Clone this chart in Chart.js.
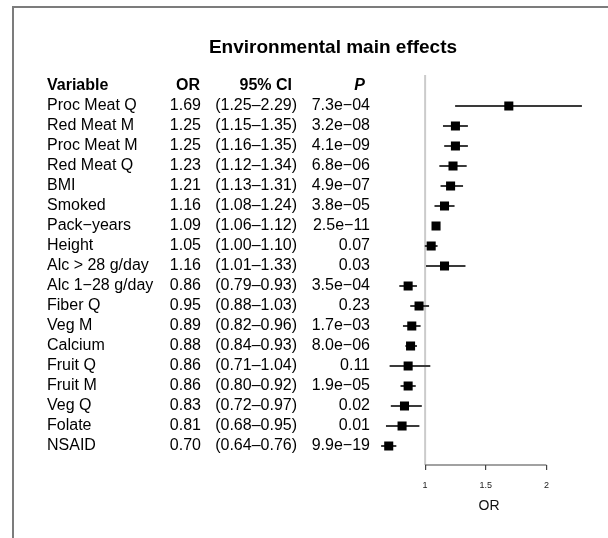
<!DOCTYPE html>
<html>
<head>
<meta charset="utf-8">
<title>Environmental main effects</title>
<script src="https://cdn.jsdelivr.net/npm/chart.js@4/dist/chart.umd.min.js"></script>
<style>
  html, body { margin: 0; padding: 0; background: #fff; }
  #wrap { position: relative; width: 608px; height: 538px; overflow: hidden; }
  #frame { position: absolute; left: 12px; top: 6px; width: 800px; height: 800px;
           border-left: 2.5px solid #7c7c7c; border-top: 2.5px solid #7c7c7c; }
  canvas { position: absolute; left: 0; top: 0; }
</style>
</head>
<body>
<div id="wrap">
  <div id="frame"></div>
  <canvas id="forestChart" width="608" height="538"></canvas>
</div>
<script>
const variables = ["Proc Meat Q", "Red Meat M", "Proc Meat M", "Red Meat Q", "BMI", "Smoked",
  "Pack\u2212years", "Height", "Alc > 28 g/day", "Alc 1\u221228 g/day", "Fiber Q", "Veg M",
  "Calcium", "Fruit Q", "Fruit M", "Veg Q", "Folate", "NSAID"];
const oddsRatios = [1.69, 1.25, 1.25, 1.23, 1.21, 1.16, 1.09, 1.05, 1.16, 0.86, 0.95, 0.89, 0.88, 0.86, 0.86, 0.83, 0.81, 0.70];
const ciLower = [1.25, 1.15, 1.16, 1.12, 1.13, 1.08, 1.06, 1.00, 1.01, 0.79, 0.88, 0.82, 0.84, 0.71, 0.80, 0.72, 0.68, 0.64];
const ciUpper = [2.29, 1.35, 1.35, 1.34, 1.31, 1.24, 1.12, 1.10, 1.33, 0.93, 1.03, 0.96, 0.93, 1.04, 0.92, 0.97, 0.95, 0.76];
const pValues = ["7.3e\u221204", "3.2e\u221208", "4.1e\u221209", "6.8e\u221206", "4.9e\u221207", "3.8e\u221205",
  "2.5e\u221211", "0.07", "0.03", "3.5e\u221204", "0.23", "1.7e\u221203", "8.0e\u221206", "0.11",
  "1.9e\u221205", "0.02", "0.01", "9.9e\u221219"];
const xTicks = [1, 1.5, 2];

const FONT = '"Liberation Sans", Arial, Helvetica, sans-serif';
Chart.defaults.font.family = FONT;

const fmt = v => v.toFixed(2);
const rows = variables.map((v, i) => i);

// reference line, axis segment, title and the text table
const forestPlugin = {
  id: 'forestTable',
  beforeDatasetsDraw(chart) {
    const { ctx, chartArea } = chart;
    const x = chart.scales.x;
    const x1 = x.getPixelForValue(1);
    ctx.save();
    ctx.strokeStyle = '#cbcbcb';
    ctx.lineWidth = 2;
    ctx.beginPath();
    ctx.moveTo(x1, chartArea.top);
    ctx.lineTo(x1, chartArea.bottom);
    ctx.stroke();

    ctx.strokeStyle = '#444';
    ctx.lineWidth = 1.2;
    ctx.beginPath();
    ctx.moveTo(x.getPixelForValue(xTicks[0]), chartArea.bottom);
    ctx.lineTo(x.getPixelForValue(xTicks[xTicks.length - 1]), chartArea.bottom);
    ctx.stroke();
    ctx.restore();
  },
  afterDraw(chart) {
    const { ctx } = chart;
    const y = chart.scales.y;
    ctx.save();
    ctx.fillStyle = '#000';
    ctx.textBaseline = 'middle';

    ctx.font = 'bold 19px ' + FONT;
    ctx.textAlign = 'center';
    ctx.fillText('Environmental main effects', 333, 48);

    const hy = y.getPixelForValue(-1);
    ctx.font = 'bold 16px ' + FONT;
    ctx.textAlign = 'left';
    ctx.fillText('Variable', 47, hy);
    ctx.textAlign = 'right';
    ctx.fillText('OR', 200, hy);
    ctx.fillText('95% CI', 292, hy);
    ctx.font = 'italic bold 16px ' + FONT;
    ctx.fillText('P', 365, hy);

    ctx.font = '16px ' + FONT;
    rows.forEach(i => {
      const ry = y.getPixelForValue(i);
      ctx.textAlign = 'left';
      ctx.fillText(variables[i], 47, ry);
      ctx.textAlign = 'right';
      ctx.fillText(fmt(oddsRatios[i]), 201, ry);
      ctx.fillText('(' + fmt(ciLower[i]) + '\u2013' + fmt(ciUpper[i]) + ')', 297, ry);
      ctx.fillText(pValues[i], 370, ry);
    });
    ctx.restore();
  }
};

new Chart(document.getElementById('forestChart'), {
  type: 'bar',
  data: {
    datasets: [
      {
        type: 'bar',
        data: rows.map(i => ({ y: i, x: [ciLower[i], ciUpper[i]] })),
        backgroundColor: '#3a3a3a',
        barThickness: 1.3,
        order: 2
      },
      {
        type: 'scatter',
        data: rows.map(i => ({ x: oddsRatios[i], y: i })),
        pointStyle: 'rect',
        radius: 6.4,
        backgroundColor: '#000',
        borderWidth: 0,
        order: 1
      }
    ]
  },
  options: {
    indexAxis: 'y',
    responsive: false,
    animation: false,
    layout: { padding: { top: 75, right: 1.5, bottom: 23, left: 0 } },
    plugins: {
      legend: { display: false },
      tooltip: { enabled: false },
      title: { display: false }
    },
    scales: {
      x: {
        type: 'linear',
        min: 0.6,
        max: 2.455,
        afterBuildTicks: s => { s.ticks = xTicks.map(v => ({ value: v })); },
        afterFit: s => { s.height = 50; },
        grid: { drawOnChartArea: false, tickLength: 5, color: '#444', lineWidth: 1.2 },
        border: { display: false },
        ticks: {
          font: { size: 9 },
          color: '#222',
          padding: 10,
          autoSkip: false,
          maxRotation: 0,
          callback: v => String(v)
        },
        title: {
          display: true,
          text: 'OR',
          font: { size: 14 },
          color: '#111',
          padding: { top: 2, bottom: 0 }
        }
      },
      y: {
        type: 'linear',
        reverse: true,
        offset: false,
        min: -1.55,
        max: 17.95,
        grid: { display: false },
        border: { display: false },
        ticks: { display: false },
        afterFit: s => { s.width = 376.6; }
      }
    }
  },
  plugins: [forestPlugin]
});
</script>
</body>
</html>
